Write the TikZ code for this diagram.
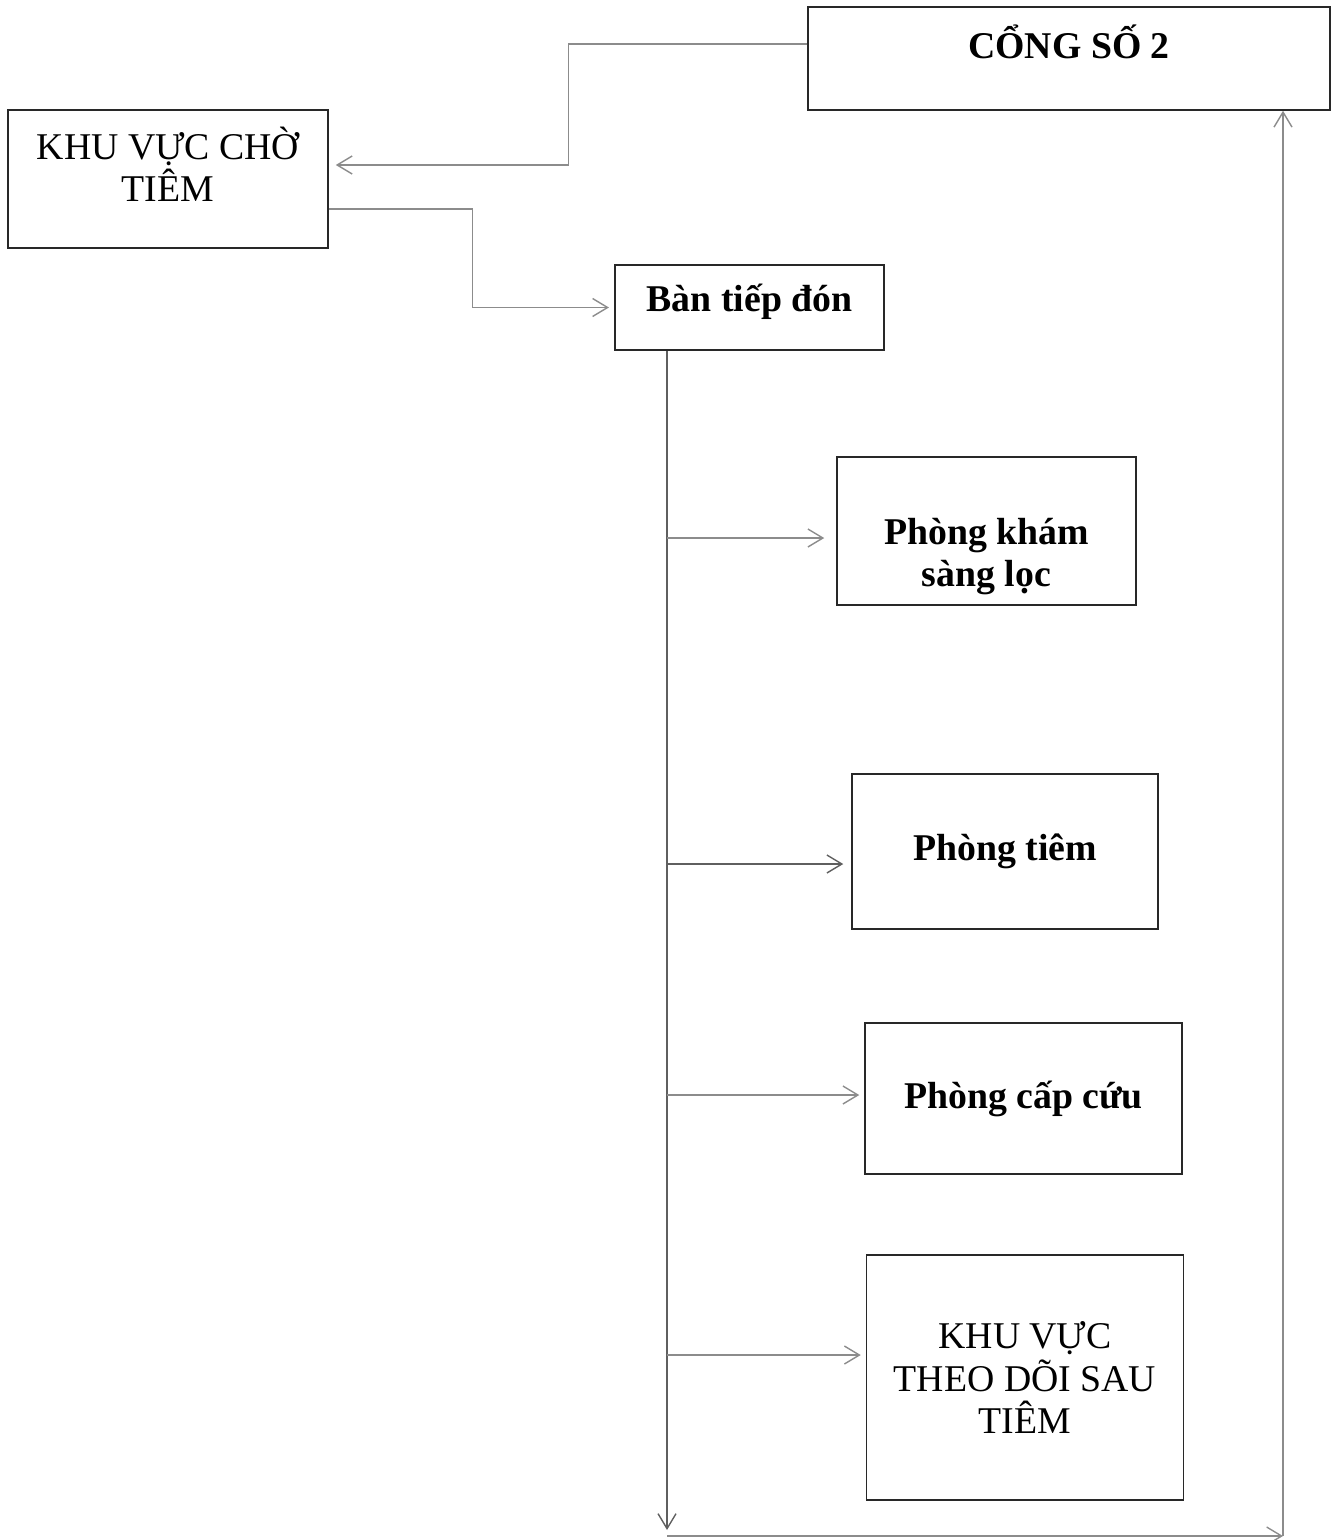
\documentclass[tikz,border=0pt]{standalone}
\usepackage{fontspec}
\setmainfont{Liberation Serif}
\usepackage{tikz}
\usetikzlibrary{arrows.meta}
\definecolor{lineGray}{RGB}{140,140,140}
\definecolor{lineDark}{RGB}{95,95,95}
\definecolor{boxEdge}{RGB}{40,40,40}

\begin{document}
\begin{tikzpicture}[x=0.02cm, y=-0.02cm,
  roombox/.style={draw=boxEdge, line width=0.9pt, rectangle, inner sep=0pt, align=center,
    font=\fontsize{21.5}{24}\selectfont},
  roomtitle/.style={roombox, font=\fontsize{21.5}{24}\selectfont\bfseries},
  flow/.style={draw=lineGray, line width=0.8pt, -{Straight Barb[length=3mm,width=3.6mm]}},
  flowdark/.style={flow, draw=lineDark},
]
\useasboundingbox (0,0) rectangle (1335,1540);

% ===================================================================
% Boxes
% ===================================================================
\node[roomtitle, minimum width=10.44cm, minimum height=2.06cm] (cong) at (1069,58.5)
  {CỔNG SỐ 2\rule[-0.66cm]{0pt}{0.66cm}};
\node[roombox, minimum width=6.4cm, minimum height=2.76cm] (cho) at (168,179)
  {KHU VỰC CHỜ\\TIÊM\rule[-0.6cm]{0pt}{0.6cm}};
\node[roomtitle, minimum width=5.38cm, minimum height=1.7cm] (ban) at (749.5,307.5)
  {Bàn tiếp đón\rule[-0.4cm]{0pt}{0.4cm}};
\node[roomtitle, minimum width=5.98cm, minimum height=2.96cm] (kham) at (986.5,531)
  {\rule{0pt}{1.55cm}Phòng khám\\sàng lọc};
\node[roomtitle, minimum width=6.12cm, minimum height=3.1cm] (tiem) at (1005,851.5)
  {Phòng tiêm};
\node[roomtitle, minimum width=6.34cm, minimum height=3.02cm] (capcuu) at (1023.5,1098.5)
  {Phòng cấp cứu};
\node[roombox, minimum width=6.34cm, minimum height=4.9cm] (theodoi) at (1025,1377.5)
  {KHU VỰC\\THEO DÕI SAU\\TIÊM};

% ===================================================================
% Entry: gate -> waiting area -> reception
% ===================================================================
\draw[flow, shorten >=4pt] ([yshift=0.29cm]cong.west) -- ++(-239,0) |- ([yshift=0.28cm]cho.east);
\draw[flow, shorten >=3pt] ([yshift=-0.6cm]cho.east) -- ++(144,0) |- (ban.west);

% ===================================================================
% Main line and branches
% ===================================================================
\coordinate (trunk) at ([xshift=-1.65cm]ban.south);
\coordinate (trunkend) at (trunk |- 0,1530);
\draw[flowdark] (trunk) -- (trunkend);

\foreach \y/\room/\gap in {538/kham/12, 1095/capcuu/5, 1355/theodoi/5} {
  \draw[flow, shorten >=\gap*0.02cm] (trunk |- 0,\y) -- (\room.west |- 0,\y);
}
\draw[flowdark, shorten >=0.16cm] (trunk |- 0,864) -- (tiem.west |- 0,864);

% ===================================================================
% Return to the gate
% ===================================================================
\coordinate (corner) at (1283,1536);
\draw[flow] (trunk |- corner) -- (corner);
\draw[flow] (corner) -- (corner |- cong.south);

\end{tikzpicture}
\end{document}
